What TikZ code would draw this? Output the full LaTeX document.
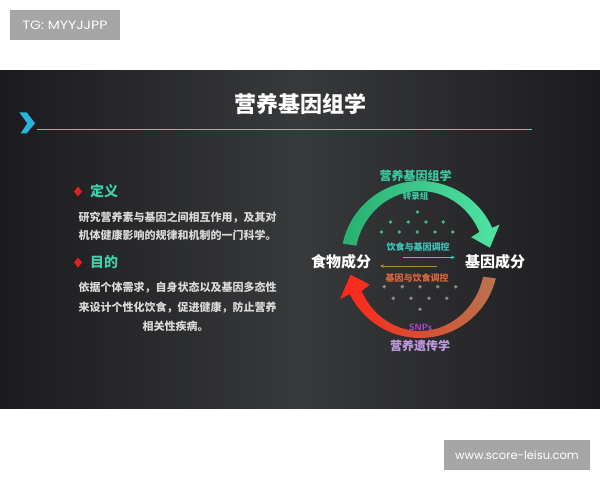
\documentclass[tikz,border=0pt]{standalone}
\usepackage{fontspec}
\usetikzlibrary{calc,arrows.meta}
\newfontfamily\cjk{Noto Sans CJK SC}
\newfontfamily\latinf{Poppins}
\definecolor{bgdark}{HTML}{1B1B1D}
\definecolor{bgmid}{HTML}{38393B}
\definecolor{boxgrey}{HTML}{A6A6A6}
\definecolor{chev}{HTML}{2AB4DC}
\definecolor{rule}{HTML}{5CCFA6}
\definecolor{headteal}{HTML}{3ED0A8}
\definecolor{bodygrey}{HTML}{D8D8D8}
\definecolor{bulletred}{HTML}{E02020}
\definecolor{gdark}{HTML}{28B070}
\definecolor{glight}{HTML}{50E4A4}
\definecolor{rleft}{HTML}{FF2418}
\definecolor{rmid}{HTML}{E8441E}
\definecolor{rright}{HTML}{B8744E}
\definecolor{lblteal}{HTML}{3CC8A0}
\definecolor{dotgreen}{HTML}{3CBC7C}
\definecolor{dotgrey}{HTML}{8A8A8A}
\definecolor{arrteal}{HTML}{40C8C0}
\definecolor{arrorange}{HTML}{B8883C}
\definecolor{lblorange}{HTML}{E0683C}
\definecolor{snp}{HTML}{B848D8}
\definecolor{lav}{HTML}{C09AE0}
\tikzset{
  fs/.style={font=\cjk\bfseries\fontsize{#1}{#1}\selectfont},
  bodyline/.style={fs=11, text=bodygrey, inner sep=0pt},
  headtxt/.style={fs=14, text=headteal, anchor=west, inner sep=0pt},
  bulletd/.style={fill=bulletred},
  dotg/.style={fill=dotgreen},
  dotk/.style={fill=dotgrey},
  boxlbl/.style={font=\latinf\fontsize{11.5}{12}\selectfont, text=white, inner sep=0pt},
  midlbl/.style={fs=9, inner sep=0pt},
}
\begin{document}
\begin{tikzpicture}[x=1pt,y=1pt]
\useasboundingbox (0,0) rectangle (600,480);
\fill[white] (0,0) rectangle (600,480);
% panel
\shade[left color=bgdark, right color=bgdark, middle color=bgmid] (0,72) rectangle (600,409);
% label boxes
\fill[boxgrey] (10,440) rectangle (120,470);
\node[boxlbl] (tg) at (65,455) {\scalebox{1.22}[1.05]{TG: MYYJJPP}};
\fill[boxgrey] (444,10) rectangle (590,40);
\node[boxlbl] (web) at (517,25) {www.score-leisu.com};
% title
\node[fs=22, text=white, inner sep=0pt] (title) at (300,376) {营养基因组学};
\fill[chev] (19.3,367.7) -- (26.7,367.7) -- (35,356.7) -- (26.7,346.7) -- (20.7,346.7) -- (27.3,356.7) -- cycle;
\coordinate (rulea) at (37,350.5);
\coordinate (ruleb) at (532,350.5);
\draw[rule, line width=1.6pt] (rulea) -- (ruleb);
% left column
\fill[bulletd] (74,288.5) -- (78,293.5) -- (82,288.5) -- (78,283.5) -- cycle;
\node[headtxt] (def) at (90,289) {定义};
\node[bodyline] (d1) at (177.5,262.5) {研究营养素与基因之间相互作用，及其对};
\node[bodyline] (d2) at (177.5,245) {机体健康影响的规律和机制的一门科学。};
\fill[bulletd] (74,217.5) -- (78,222.5) -- (82,217.5) -- (78,212.5) -- cycle;
\node[headtxt] (aim) at (90,218) {目的};
\node[bodyline] (a1) at (177.5,192) {依据个体需求，自身状态以及基因多态性};
\node[bodyline] (a2) at (177.5,172.3) {来设计个性化饮食，促进健康，防止营养};
\node[bodyline] (a3) at (175.5,153.3) {相关性疾病。};
% cycle diagram
\coordinate (C) at (420,220);
\shade[left color=gdark, right color=glight]
  ($(C)+(168:79pt)$) arc[start angle=168,end angle=24,radius=79pt]
  -- ($(C)+(24:87pt)$) -- ($(C)+(10:71pt)$) -- ($(C)+(24:56pt)$)
  -- ($(C)+({65*cos(24)},{69*sin(24)})$)
  arc[start angle=24,end angle=168,x radius=65pt,y radius=69pt] -- cycle;
\shade[left color=rleft, middle color=rmid, right color=rright]
  ($(C)+(-13.6:78pt)$) arc[start angle=-13.6,end angle=-154,radius=78pt]
  -- ($(C)+(-154:89pt)$) -- ($(C)+(-168:71pt)$) -- ($(C)+(-154:56pt)$)
  -- ($(C)+({65*cos(-154)},{71*sin(-154)})$)
  arc[start angle=-154,end angle=-13.6,x radius=65pt,y radius=71pt] -- cycle;
\node[fs=12, text=lblteal, inner sep=0pt] (tnut) at (415.5,304) {营养基因组学};
\node[fs=8.5, text=lblteal, inner sep=0pt] (trans) at (415.5,283.5) {转录组};
\foreach \x/\y in {417.5/268, 390.5/258, 408.3/258, 426/258, 443.3/258,
  381.5/248, 399.3/248, 417.3/248, 435/248, 452.7/248}
  \fill[dotg] (\x,\y) circle (1.9pt);
\node[midlbl, text=arrteal] (dg) at (418,233.3) {饮食与基因调控};
\coordinate (ra) at (403,222.7);
\coordinate (rb) at (455,222.7);
\draw[arrteal, line width=0.8pt, -{Stealth[length=4pt,width=3.5pt]}] (ra) -- (rb);
\coordinate (la) at (437,214);
\coordinate (lb) at (380,214);
\draw[arrorange, line width=0.7pt, -{Stealth[length=4pt,width=3.5pt]}] (la) -- (lb);
\node[midlbl, text=lblorange] (gd) at (417,201.5) {基因与饮食调控};
\foreach \x/\y in {384.3/193.3, 402.3/193.3, 420/193.3, 437.7/193.3, 455.7/193.3,
  393.3/181.7, 411/181.7, 429/181.7, 446.7/181.7, 420/170.7}
  \fill[dotk] (\x,\y) circle (1.9pt);
\node[fs=15, text=white, inner sep=0pt] (food) at (341,218) {食物成分};
\node[fs=15, text=white, inner sep=0pt] (gene) at (495,218) {基因成分};
\node[font=\sffamily\bfseries\fontsize{9}{9}\selectfont, text=snp, inner sep=0pt] (snps) at (420.5,152.5) {SNPs};
\node[fs=12, text=lav, inner sep=0pt] (ngen) at (420,134) {营养遗传学};
\end{tikzpicture}
\end{document}
